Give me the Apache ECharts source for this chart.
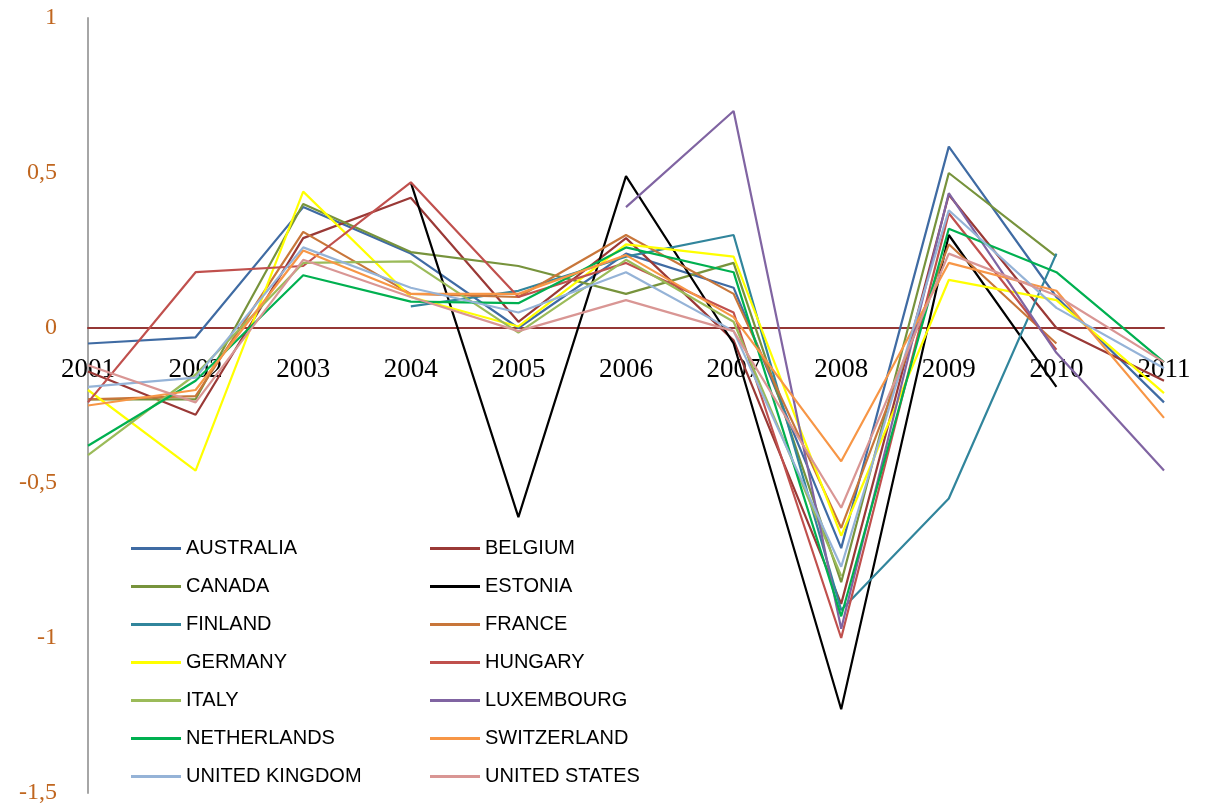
<!DOCTYPE html>
<html>
<head>
<meta charset="utf-8">
<script src="https://cdn.jsdelivr.net/npm/echarts@6/dist/echarts.min.js"></script>
<style>
  html, body { margin: 0; padding: 0; background: #ffffff; }
  #chart { width: 1209px; height: 804px; }
</style>
</head>
<body>
<div id="chart"></div>
<script>
// Years on the category axis
const years = ['2001', '2002', '2003', '2004', '2005', '2006', '2007', '2008', '2009', '2010', '2011'];

// Value-axis tick labels (decimal comma)
const yTickLabels = { '1': '1', '0.5': '0,5', '0': '0', '-0.5': '-0,5', '-1': '-1', '-1.5': '-1,5' };

// One array per country; null where the country has no value for that year
const australia   = [-0.05, -0.03, 0.39, 0.24, 0.00, 0.24, 0.13, -0.71, 0.585, 0.10, -0.24];
const belgium     = [-0.14, -0.28, 0.29, 0.42, 0.02, 0.29, -0.04, -0.89, 0.43, 0.00, -0.17];
const canada      = [-0.23, -0.23, 0.40, 0.245, 0.20, 0.11, 0.21, -0.82, 0.50, 0.23, null];
const estonia     = [null, null, null, 0.47, -0.61, 0.49, -0.05, -1.23, 0.30, -0.19, null];
const finland     = [null, null, null, 0.07, 0.12, 0.23, 0.30, -0.91, -0.55, 0.24, null];
const france      = [-0.23, -0.22, 0.31, 0.11, 0.10, 0.30, 0.11, -0.645, 0.27, -0.05, null];
const germany     = [-0.20, -0.46, 0.44, 0.10, 0.005, 0.27, 0.23, -0.67, 0.155, 0.09, -0.21];
const hungary     = [-0.24, 0.18, 0.20, 0.47, 0.10, 0.21, 0.05, -1.00, 0.37, -0.07, null];
const italy       = [-0.41, -0.15, 0.21, 0.215, -0.015, 0.22, 0.02, -0.80, null, null, null];
const luxembourg  = [null, null, null, null, null, 0.39, 0.70, -0.97, 0.435, -0.08, -0.46];
const netherlands = [-0.38, -0.17, 0.17, 0.085, 0.08, 0.26, 0.18, -0.93, 0.32, 0.18, -0.11];
const switzerland = [-0.25, -0.20, 0.25, 0.11, 0.11, 0.235, 0.035, -0.43, 0.21, 0.12, -0.29];
const unitedKingdom = [-0.19, -0.16, 0.26, 0.13, 0.05, 0.18, -0.01, -0.77, 0.38, 0.065, -0.13];
const unitedStates  = [-0.12, -0.24, 0.22, 0.10, -0.01, 0.09, -0.01, -0.58, 0.24, 0.105, -0.11];

const countries = [
  { name: 'AUSTRALIA',      data: australia,     color: '#3F6BA3' },
  { name: 'BELGIUM',        data: belgium,       color: '#9A3936' },
  { name: 'CANADA',         data: canada,        color: '#77933C' },
  { name: 'ESTONIA',        data: estonia,       color: '#000000' },
  { name: 'FINLAND',        data: finland,       color: '#31859C' },
  { name: 'FRANCE',         data: france,        color: '#C8763A' },
  { name: 'GERMANY',        data: germany,       color: '#FFFF00' },
  { name: 'HUNGARY',        data: hungary,       color: '#C0504D' },
  { name: 'ITALY',          data: italy,         color: '#9BBB59' },
  { name: 'LUXEMBOURG',     data: luxembourg,    color: '#8064A2' },
  { name: 'NETHERLANDS',    data: netherlands,   color: '#00B050' },
  { name: 'SWITZERLAND',    data: switzerland,   color: '#F79646' },
  { name: 'UNITED KINGDOM', data: unitedKingdom, color: '#95B3D7' },
  { name: 'UNITED STATES',  data: unitedStates,  color: '#D99694' }
];

const Y_MIN = -1.5;
const Y_MAX = 1;
const GRID_TOP = 18;
const GRID_BOTTOM = 11;
const PLOT_H = 804 - GRID_TOP - GRID_BOTTOM;
// Lift the category axis from the bottom edge up to the zero line
const zeroOffset = -PLOT_H * (0 - Y_MIN) / (Y_MAX - Y_MIN);

const chart = echarts.init(document.getElementById('chart'), null, { renderer: 'canvas' });

chart.setOption({
  animation: false,
  backgroundColor: '#ffffff',
  grid: {
    left: 88, right: 45, top: GRID_TOP, bottom: GRID_BOTTOM,
    containLabel: false,
    outerBoundsMode: 'none'
  },
  xAxis: {
    type: 'category',
    data: years,
    boundaryGap: false,
    position: 'bottom',
    offset: zeroOffset,
    axisLine: { show: true, onZero: false, lineStyle: { color: '#953735', width: 2 } },
    axisTick: { show: false },
    splitLine: { show: false },
    axisLabel: {
      margin: 28,
      color: '#000000',
      fontFamily: 'Liberation Serif',
      fontSize: 27,
      interval: 0
    }
  },
  yAxis: {
    type: 'value',
    min: Y_MIN,
    max: Y_MAX,
    interval: 0.5,
    axisLine: { show: true, onZero: false, lineStyle: { color: '#A6A6A6', width: 2 } },
    axisTick: { show: false },
    splitLine: { show: false },
    axisLabel: {
      margin: 31,
      color: '#C0661F',
      fontFamily: 'Liberation Serif',
      fontSize: 24,
      formatter: function (v) {
        const k = String(Math.round(v * 10) / 10);
        return yTickLabels[k] !== undefined ? yTickLabels[k] : k;
      }
    }
  },
  legend: {
    left: 131,
    top: 532,
    padding: 0,
    width: 600,
    orient: 'horizontal',
    itemWidth: 50,
    itemHeight: 3,
    itemGap: 5,
    icon: 'rect',
    textStyle: {
      fontFamily: 'Liberation Sans',
      fontSize: 20,
      color: '#000000',
      width: 239,
      lineHeight: 33,
      overflow: 'truncate'
    },
    data: countries.map(c => c.name)
  },
  series: countries.map(c => ({
    name: c.name,
    type: 'line',
    data: c.data,
    symbol: 'none',
    connectNulls: false,
    color: c.color,
    lineStyle: { color: c.color, width: 2.2 },
    itemStyle: { color: c.color }
  }))
});
</script>
</body>
</html>
